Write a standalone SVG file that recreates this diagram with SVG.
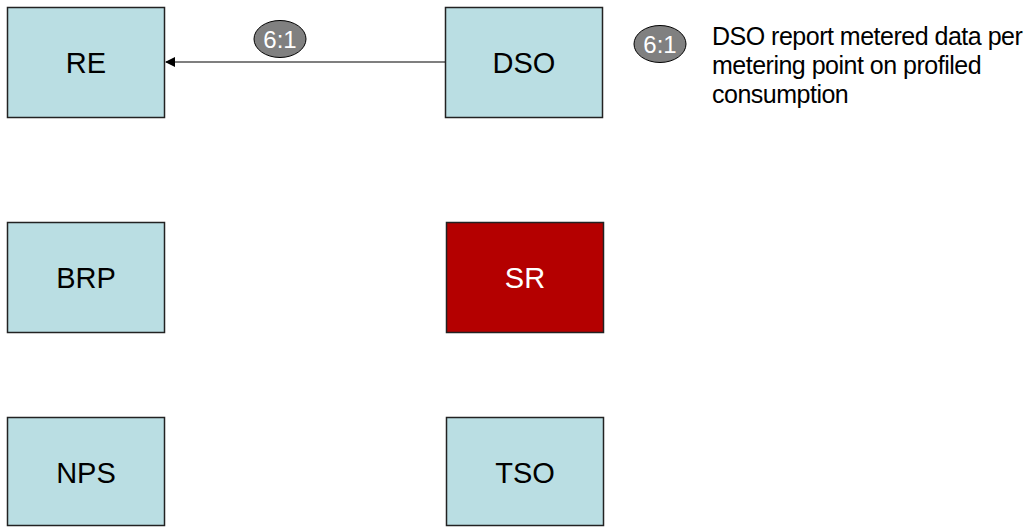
<svg xmlns="http://www.w3.org/2000/svg" width="1029" height="527" viewBox="0 0 1029 527">
  <style>
    .box { fill: #badee3; stroke: #222; stroke-width: 1.5; }
    .box.red { fill: #b40000; }
    .lbl { font-family: "Liberation Sans", Arial, sans-serif; font-size: 29px; fill: #000; text-anchor: middle; }
    .lbl.white { fill: #fff; }
    .tag { fill: #808080; stroke: #000; stroke-width: 1; }
    .tagtxt { font-family: "Liberation Sans", Arial, sans-serif; font-size: 24px; fill: #fff; text-anchor: middle; }
    .legend { font-family: "Liberation Sans", Arial, sans-serif; font-size: 25px; letter-spacing: -0.5px; fill: #000; }
    .conn { stroke: #000; stroke-width: 1.2; fill: none; }
  </style>
  <defs>
    <marker id="arrow" markerWidth="10" markerHeight="10" refX="9" refY="5" orient="auto" markerUnits="userSpaceOnUse">
      <path d="M0,0 L10,5 L0,10 Z" fill="#000"/>
    </marker>
  </defs>

  <!-- actors -->
  <g id="node-re">
    <rect class="box" x="7.5" y="7.5" width="157" height="110"/>
    <text class="lbl" x="86" y="73">RE</text>
  </g>
  <g id="node-dso">
    <rect class="box" x="445.5" y="7.5" width="157" height="110"/>
    <text class="lbl" x="524" y="73">DSO</text>
  </g>
  <g id="node-brp">
    <rect class="box" x="7.5" y="222.5" width="157" height="110"/>
    <text class="lbl" x="86" y="288">BRP</text>
  </g>
  <g id="node-sr">
    <rect class="box red" x="446.5" y="222.5" width="157" height="110"/>
    <text class="lbl white" x="525" y="288">SR</text>
  </g>
  <g id="node-nps">
    <rect class="box" x="7.5" y="417.5" width="157" height="108"/>
    <text class="lbl" x="86" y="483">NPS</text>
  </g>
  <g id="node-tso">
    <rect class="box" x="446.5" y="417.5" width="157" height="108"/>
    <text class="lbl" x="525" y="483">TSO</text>
  </g>

  <!-- message flows -->
  <g id="connectors">
    <line class="conn" x1="445" y1="62" x2="166" y2="62" marker-end="url(#arrow)"/>
    <g id="flow-6-1">
      <ellipse class="tag" cx="280" cy="39" rx="26" ry="18.5"/>
      <text class="tagtxt" x="280" y="48">6:1</text>
    </g>
  </g>

  <!-- legend -->
  <g id="legend">
    <ellipse class="tag" cx="660" cy="44" rx="26" ry="18.5"/>
    <text class="tagtxt" x="660" y="53">6:1</text>
    <text class="legend" x="712" y="45">DSO report metered data per</text>
    <text class="legend" x="712" y="74">metering point on profiled</text>
    <text class="legend" x="712" y="103">consumption</text>
  </g>
</svg>
